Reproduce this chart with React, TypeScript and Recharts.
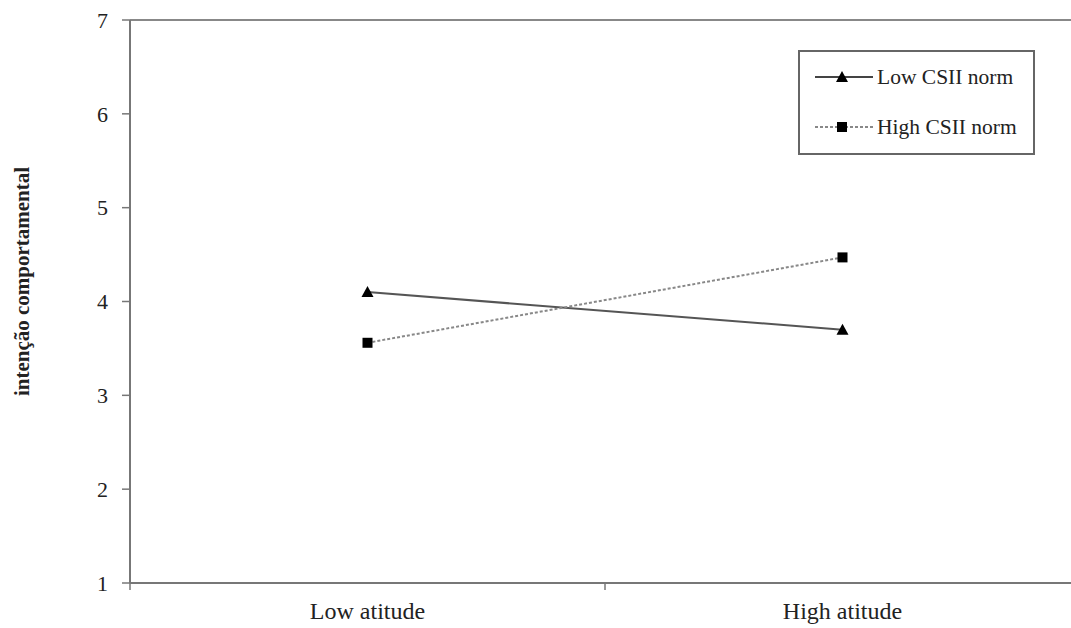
import React from "react";
import { LineChart, Line, XAxis, YAxis, Legend, ReferenceLine } from "recharts";

const categories = ["Low atitude", "High atitude"];
const lowNorm = [4.1, 3.7];
const highNorm = [3.56, 4.47];
const yTicks = [1, 2, 3, 4, 5, 6, 7];
const yLabel = "intenção comportamental";
const seriesNames = ["Low CSII norm", "High CSII norm"];

const data = categories.map((c, i) => ({ cat: c, low: lowNorm[i], high: highNorm[i] }));

const FONT = '"Liberation Serif", "Times New Roman", serif';

const Triangle = (props: any) => {
  const { cx, cy } = props;
  if (cx == null || cy == null) return null;
  return <polygon points={`${cx},${cy - 6} ${cx - 6},${cy + 5} ${cx + 6},${cy + 5}`} fill="#000" />;
};
const Square = (props: any) => {
  const { cx, cy } = props;
  if (cx == null || cy == null) return null;
  return <rect x={cx - 5} y={cy - 5} width={10} height={10} fill="#000" />;
};

const XTick = (props: any) => {
  const { x, y, payload, index } = props;
  const off = payload && typeof payload.offset === "number" ? payload.offset : 0;
  return (
    <g>
      {index === 0 && off > 0 ? (
        <line x1={x - off} x2={x - off} y1={y} y2={y + 7} stroke="#777" strokeWidth={1.5} />
      ) : null}
      {off > 0 ? (
        <line x1={x + off} x2={x + off} y1={y} y2={y + 7} stroke="#777" strokeWidth={1.5} />
      ) : null}
      <text x={x} y={y + 19} dy="0.71em" textAnchor="middle" fill="#222" fontSize={24} fontFamily={FONT}>
        {payload.value}
      </text>
    </g>
  );
};

const LegendContent = () => (
  <div
    style={{
      width: 237,
      height: 105,
      boxSizing: "border-box",
      border: "2px solid #666",
      background: "#fff",
      fontFamily: FONT,
      fontSize: 21.5,
      color: "#222",
      position: "relative",
    }}
  >
    {seriesNames.map((name, i) => (
      <div
        key={name}
        style={{ position: "absolute", left: 13, top: i === 0 ? 13 : 63, height: 24, display: "flex", alignItems: "center" }}
      >
        <svg width={62} height={24}>
          <line
            x1={2}
            x2={60}
            y1={12}
            y2={12}
            stroke={i === 0 ? "#444" : "#888"}
            strokeWidth={2}
            strokeDasharray={i === 0 ? undefined : "3 2"}
          />
          {i === 0 ? <Triangle cx={29} cy={12} /> : <Square cx={29} cy={12} />}
        </svg>
        <span style={{ marginLeft: 2, whiteSpace: "nowrap" }}>{name}</span>
      </div>
    ))}
  </div>
);

export default function App() {
  return (
    <div style={{ position: "absolute", left: 0, top: 0, width: 1071, height: 628, overflow: "hidden", background: "#fff" }}>
      <LineChart width={1100} height={628} data={data} margin={{ top: 20, right: 20, bottom: 0, left: 40 }}>
        <ReferenceLine y={7} stroke="#888" strokeWidth={2} />
        <XAxis
          dataKey="cat"
          scale="band"
          height={45}
          tickSize={0}
          tickMargin={0}
          tickLine={false}
          axisLine={{ stroke: "#777", strokeWidth: 2 }}
          tick={<XTick />}
          interval={0}
        />
        <YAxis
          type="number"
          domain={[1, 7]}
          ticks={yTicks}
          width={90}
          tickSize={8}
          tickMargin={14}
          axisLine={{ stroke: "#777", strokeWidth: 2 }}
          tickLine={{ stroke: "#777", strokeWidth: 1.5 }}
          tick={{ fill: "#222", fontSize: 22, fontFamily: FONT }}
          label={{
            value: yLabel,
            angle: -90,
            position: "insideLeft",
            offset: 0,
            dx: -18,
            dy: -20,
            style: { textAnchor: "middle", fontWeight: "bold", fontSize: 21, fontFamily: FONT, fill: "#222" },
          }}
        />
        <Legend
          layout="vertical"
          align="center"
          verticalAlign="middle"
          wrapperStyle={{ left: 798, top: 50, width: 237, height: 105 }}
          content={<LegendContent />}
        />
        <Line
          dataKey="low"
          name={seriesNames[0]}
          stroke="#555"
          strokeWidth={2}
          dot={<Triangle />}
          activeDot={false}
          isAnimationActive={false}
        />
        <Line
          dataKey="high"
          name={seriesNames[1]}
          stroke="#888"
          strokeWidth={2}
          strokeDasharray="3 2"
          dot={<Square />}
          activeDot={false}
          isAnimationActive={false}
        />
      </LineChart>
    </div>
  );
}
